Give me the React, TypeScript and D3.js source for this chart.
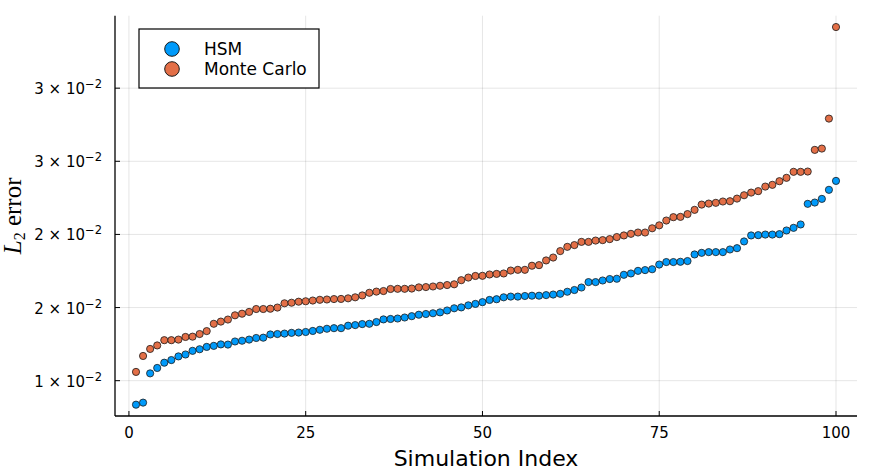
import { useEffect, useRef } from 'react';
import * as d3 from 'd3';

// L2 error per simulation, sorted ascending
const hsm = [
  0.01086, 0.01100, 0.01300, 0.01337, 0.01373, 0.01391, 0.01416, 0.01429, 0.01454, 0.01465,
  0.01481, 0.01488, 0.01498, 0.01497, 0.01518, 0.01523, 0.01531, 0.01542, 0.01544, 0.01566,
  0.01569, 0.01572, 0.01577, 0.01579, 0.01583, 0.01590, 0.01598, 0.01605, 0.01609, 0.01609,
  0.01626, 0.01630, 0.01637, 0.01639, 0.01651, 0.01669, 0.01672, 0.01675, 0.01682, 0.01691,
  0.01701, 0.01706, 0.01711, 0.01717, 0.01730, 0.01745, 0.01751, 0.01765, 0.01775, 0.01787,
  0.01802, 0.01807, 0.01820, 0.01825, 0.01825, 0.01829, 0.01831, 0.01831, 0.01835, 0.01839,
  0.01844, 0.01858, 0.01870, 0.01887, 0.01924, 0.01924, 0.01935, 0.01945, 0.01947, 0.01974,
  0.01983, 0.02001, 0.02006, 0.02012, 0.02044, 0.02061, 0.02061, 0.02063, 0.02068, 0.02113,
  0.02124, 0.02129, 0.02129, 0.02129, 0.02147, 0.02156, 0.02202, 0.02243, 0.02245, 0.02249,
  0.02249, 0.02252, 0.02277, 0.02295, 0.02318, 0.02459, 0.02468, 0.02493, 0.02555, 0.02616,
];

const monteCarlo = [
  0.01310, 0.01419, 0.01467, 0.01491, 0.01527, 0.01527, 0.01531, 0.01549, 0.01551, 0.01569,
  0.01589, 0.01639, 0.01654, 0.01668, 0.01697, 0.01708, 0.01720, 0.01740, 0.01740, 0.01742,
  0.01750, 0.01779, 0.01783, 0.01790, 0.01793, 0.01798, 0.01803, 0.01805, 0.01808, 0.01809,
  0.01813, 0.01820, 0.01833, 0.01851, 0.01859, 0.01863, 0.01877, 0.01878, 0.01878, 0.01880,
  0.01888, 0.01890, 0.01894, 0.01899, 0.01904, 0.01909, 0.01937, 0.01955, 0.01966, 0.01967,
  0.01976, 0.01980, 0.01983, 0.02003, 0.02008, 0.02008, 0.02036, 0.02040, 0.02072, 0.02092,
  0.02136, 0.02165, 0.02177, 0.02199, 0.02199, 0.02208, 0.02211, 0.02218, 0.02232, 0.02243,
  0.02254, 0.02263, 0.02263, 0.02292, 0.02312, 0.02345, 0.02368, 0.02370, 0.02389, 0.02418,
  0.02454, 0.02461, 0.02466, 0.02475, 0.02477, 0.02495, 0.02518, 0.02536, 0.02546, 0.02577,
  0.02589, 0.02614, 0.02637, 0.02678, 0.02678, 0.02680, 0.02828, 0.02837, 0.03042, 0.03668,
];

const seriesNames = ['HSM', 'Monte Carlo'];
const seriesColors = ['#009AFA', '#E36F47'];

const xTicks = [0, 25, 50, 75, 100];
const yTicks = [0.0125, 0.0175, 0.0225, 0.0275, 0.0325];
const yTickMantissa = ['1', '2', '2', '3', '3'];

const App = () => {
  const svgRef = useRef<SVGSVGElement>(null);

  useEffect(() => {
    document.body.style.margin = '0';
    if (!svgRef.current) return;

    const svg = d3.select(svgRef.current);
    svg.selectAll('*').remove();

    const left = 115;
    const right = 857;
    const top = 15.7;
    const bottom = 416;
    const font = "'DejaVu Sans', sans-serif";

    const n = hsm.length;
    const all = [...hsm, ...monteCarlo];
    const yMin = d3.min(all)!;
    const yMax = d3.max(all)!;
    const yPad = (yMax - yMin) * 0.03;
    const xPad = (n - 1) * 0.03;

    const x = d3.scaleLinear().domain([1 - xPad, n + xPad]).range([left, right]);
    const y = d3.scaleLinear().domain([yMin - yPad, yMax + yPad]).range([bottom, top]);

    // grid
    svg.append('g')
      .selectAll('line')
      .data(xTicks)
      .join('line')
      .attr('x1', d => x(d)).attr('x2', d => x(d))
      .attr('y1', top).attr('y2', bottom)
      .attr('stroke', '#000').attr('stroke-opacity', 0.1).attr('stroke-width', 1);

    svg.append('g')
      .selectAll('line')
      .data(yTicks)
      .join('line')
      .attr('x1', left).attr('x2', right)
      .attr('y1', d => y(d)).attr('y2', d => y(d))
      .attr('stroke', '#000').attr('stroke-opacity', 0.1).attr('stroke-width', 1);

    // axes
    svg.append('line')
      .attr('x1', left).attr('x2', left).attr('y1', top).attr('y2', bottom)
      .attr('stroke', '#000').attr('stroke-width', 1.3);
    svg.append('line')
      .attr('x1', left).attr('x2', right).attr('y1', bottom).attr('y2', bottom)
      .attr('stroke', '#000').attr('stroke-width', 1.3);

    // ticks
    xTicks.forEach(t => {
      svg.append('line')
        .attr('x1', x(t)).attr('x2', x(t))
        .attr('y1', bottom).attr('y2', bottom - 5)
        .attr('stroke', '#000').attr('stroke-width', 1);
      svg.append('text')
        .attr('x', x(t)).attr('y', bottom + 22)
        .attr('text-anchor', 'middle')
        .attr('font-family', font).attr('font-size', 15)
        .text(t.toString());
    });

    yTicks.forEach((t, i) => {
      svg.append('line')
        .attr('x1', left).attr('x2', left + 5)
        .attr('y1', y(t)).attr('y2', y(t))
        .attr('stroke', '#000').attr('stroke-width', 1);
      const label = svg.append('text')
        .attr('x', 102).attr('y', y(t) + 6)
        .attr('text-anchor', 'end')
        .attr('font-family', font).attr('font-size', 15);
      label.append('tspan').text(`${yTickMantissa[i]} × 10`);
      label.append('tspan').attr('font-size', 11.5).attr('dy', -6).text('−2');
    });

    // axis labels
    svg.append('text')
      .attr('x', (left + right) / 2).attr('y', 466)
      .attr('text-anchor', 'middle')
      .attr('font-family', font).attr('font-size', 22)
      .text('Simulation Index');

    const yl = svg.append('text')
      .attr('transform', `translate(21,${(top + bottom) / 2}) rotate(-90)`)
      .attr('text-anchor', 'middle')
      .attr('font-family', "'Liberation Serif', serif").attr('font-size', 25);
    yl.append('tspan').attr('font-style', 'italic').text('L');
    yl.append('tspan').attr('font-size', 16).attr('dy', 4).text('2');
    yl.append('tspan').attr('dy', -4).text(' error');

    // points
    [hsm, monteCarlo].forEach((series, s) => {
      svg.append('g')
        .selectAll('circle')
        .data(series)
        .join('circle')
        .attr('cx', (_, i) => x(i + 1))
        .attr('cy', d => y(d))
        .attr('r', 3.6)
        .attr('fill', seriesColors[s])
        .attr('stroke', '#1a1a1a')
        .attr('stroke-width', 0.8);
    });

    // legend
    svg.append('rect')
      .attr('x', 139).attr('y', 29).attr('width', 180).attr('height', 59)
      .attr('fill', '#fff').attr('stroke', '#000').attr('stroke-width', 1.2);

    seriesNames.forEach((name, i) => {
      const cy = 49 + i * 20;
      svg.append('circle')
        .attr('cx', 172).attr('cy', cy).attr('r', 7.3)
        .attr('fill', seriesColors[i])
        .attr('stroke', '#1a1a1a').attr('stroke-width', 1);
      svg.append('text')
        .attr('x', 204).attr('y', cy + 6)
        .attr('font-family', font).attr('font-size', 17)
        .text(name);
    });
  }, []);

  return <svg ref={svgRef} width={872} height={470} style={{ display: 'block', background: '#fff' }} />;
};

export default App;
